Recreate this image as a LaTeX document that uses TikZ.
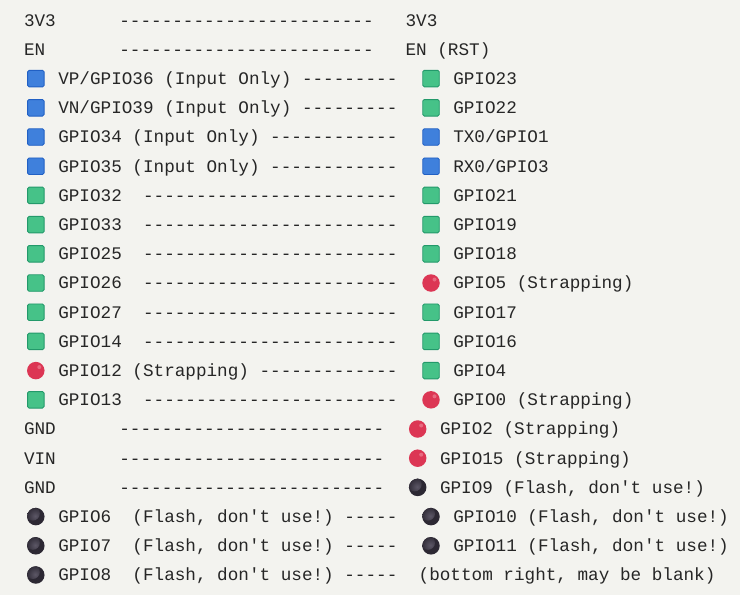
\documentclass[tikz,border=0pt]{standalone}
\usepackage{fontspec}
\setmonofont{Liberation Mono}
\definecolor{bgc}{HTML}{F3F3EF}
\definecolor{txc}{HTML}{262626}
\definecolor{eblue}{HTML}{3F80DC}
\definecolor{eblued}{HTML}{2160C4}
\definecolor{egreen}{HTML}{46C288}
\definecolor{egreend}{HTML}{23996A}
\definecolor{ered}{HTML}{DC3654}
\definecolor{eredl}{HTML}{E86A80}
\definecolor{eblack}{HTML}{2C2833}
\definecolor{eblackl}{HTML}{5C5766}
\tikzset{
  pin/.style={anchor=base west, inner sep=0pt, outer sep=0pt, text=txc,
    font=\ttfamily\fontsize{17.66pt}{20pt}\selectfont},
  esq/.style={rectangle, minimum size=16.5pt, inner sep=0pt, rounded corners=1.5pt, line width=0.9pt},
  sqblue/.style={esq, fill=eblue, draw=eblued},
  sqgreen/.style={esq, fill=egreen, draw=egreend},
  dotred/.style={circle, minimum size=17.5pt, inner sep=0pt, fill=ered,
    path picture={\fill[eredl] ([xshift=3.5pt,yshift=3.5pt]path picture bounding box.center) circle (2pt);}},
  dotblack/.style={circle, minimum size=17.5pt, inner sep=0pt, fill=eblack,
    path picture={\shade[inner color=eblackl, outer color=eblack]
      ([xshift=-3pt,yshift=3pt]path picture bounding box.center) circle (7pt);}},
}
\newcommand{\bl}[1]{26.05+29.2*#1}
\newcommand{\cy}[1]{20.2+29.2*#1}
\begin{document}
\begin{tikzpicture}[x=1pt,y=-1pt]
\fill[bgc] (0,0) rectangle (740,595);
\useasboundingbox (0,0) rectangle (740,595);
% ---- left column, plain rows
\node[pin] (l0) at (24,{\bl{0}}) {3V3~~~~~~------------------------};
\node[pin] (l1) at (24,{\bl{1}}) {EN~~~~~~~------------------------};
\node[pin] (l14) at (24,{\bl{14}}) {GND~~~~~~-------------------------};
\node[pin] (l15) at (24,{\bl{15}}) {VIN~~~~~~-------------------------};
\node[pin] (l16) at (24,{\bl{16}}) {GND~~~~~~-------------------------};
% ---- left column, marked rows
\node[sqblue] (le2) at (35.8,{\cy{2}}) {};
\node[pin] (l2) at (58.3,{\bl{2}}) {VP/GPIO36 (Input Only) ---------};
\node[sqblue] (le3) at (35.8,{\cy{3}}) {};
\node[pin] (l3) at (58.3,{\bl{3}}) {VN/GPIO39 (Input Only) ---------};
\node[sqblue] (le4) at (35.8,{\cy{4}}) {};
\node[pin] (l4) at (58.3,{\bl{4}}) {GPIO34 (Input Only) ------------};
\node[sqblue] (le5) at (35.8,{\cy{5}}) {};
\node[pin] (l5) at (58.3,{\bl{5}}) {GPIO35 (Input Only) ------------};
\node[sqgreen] (le6) at (35.8,{\cy{6}}) {};
\node[pin] (l6) at (58.3,{\bl{6}}) {GPIO32~~------------------------};
\node[sqgreen] (le7) at (35.8,{\cy{7}}) {};
\node[pin] (l7) at (58.3,{\bl{7}}) {GPIO33~~------------------------};
\node[sqgreen] (le8) at (35.8,{\cy{8}}) {};
\node[pin] (l8) at (58.3,{\bl{8}}) {GPIO25~~------------------------};
\node[sqgreen] (le9) at (35.8,{\cy{9}}) {};
\node[pin] (l9) at (58.3,{\bl{9}}) {GPIO26~~------------------------};
\node[sqgreen] (le10) at (35.8,{\cy{10}}) {};
\node[pin] (l10) at (58.3,{\bl{10}}) {GPIO27~~------------------------};
\node[sqgreen] (le11) at (35.8,{\cy{11}}) {};
\node[pin] (l11) at (58.3,{\bl{11}}) {GPIO14~~------------------------};
\node[dotred] (le12) at (35.8,{\cy{12}}) {};
\node[pin] (l12) at (58.3,{\bl{12}}) {GPIO12 (Strapping) -------------};
\node[sqgreen] (le13) at (35.8,{\cy{13}}) {};
\node[pin] (l13) at (58.3,{\bl{13}}) {GPIO13~~------------------------};
\node[dotblack] (le17) at (35.8,{\cy{17}}) {};
\node[pin] (l17) at (58.3,{\bl{17}}) {GPIO6~~(Flash, don't use!) -----};
\node[dotblack] (le18) at (35.8,{\cy{18}}) {};
\node[pin] (l18) at (58.3,{\bl{18}}) {GPIO7~~(Flash, don't use!) -----};
\node[dotblack] (le19) at (35.8,{\cy{19}}) {};
\node[pin] (l19) at (58.3,{\bl{19}}) {GPIO8~~(Flash, don't use!) -----};
% ---- right column
\node[pin] (r0) at (405.6,{\bl{0}}) {3V3};
\node[pin] (r1) at (405.6,{\bl{1}}) {EN (RST)};
\node[sqgreen] (re2) at (431,{\cy{2}}) {};
\node[pin] (r2) at (453.3,{\bl{2}}) {GPIO23};
\node[sqgreen] (re3) at (431,{\cy{3}}) {};
\node[pin] (r3) at (453.3,{\bl{3}}) {GPIO22};
\node[sqblue] (re4) at (431,{\cy{4}}) {};
\node[pin] (r4) at (453.3,{\bl{4}}) {TX0/GPIO1};
\node[sqblue] (re5) at (431,{\cy{5}}) {};
\node[pin] (r5) at (453.3,{\bl{5}}) {RX0/GPIO3};
\node[sqgreen] (re6) at (431,{\cy{6}}) {};
\node[pin] (r6) at (453.3,{\bl{6}}) {GPIO21};
\node[sqgreen] (re7) at (431,{\cy{7}}) {};
\node[pin] (r7) at (453.3,{\bl{7}}) {GPIO19};
\node[sqgreen] (re8) at (431,{\cy{8}}) {};
\node[pin] (r8) at (453.3,{\bl{8}}) {GPIO18};
\node[dotred] (re9) at (431,{\cy{9}}) {};
\node[pin] (r9) at (453.3,{\bl{9}}) {GPIO5 (Strapping)};
\node[sqgreen] (re10) at (431,{\cy{10}}) {};
\node[pin] (r10) at (453.3,{\bl{10}}) {GPIO17};
\node[sqgreen] (re11) at (431,{\cy{11}}) {};
\node[pin] (r11) at (453.3,{\bl{11}}) {GPIO16};
\node[sqgreen] (re12) at (431,{\cy{12}}) {};
\node[pin] (r12) at (453.3,{\bl{12}}) {GPIO4};
\node[dotred] (re13) at (431,{\cy{13}}) {};
\node[pin] (r13) at (453.3,{\bl{13}}) {GPIO0 (Strapping)};
\node[dotred] (re14) at (417.7,{\cy{14}}) {};
\node[pin] (r14) at (440,{\bl{14}}) {GPIO2 (Strapping)};
\node[dotred] (re15) at (417.7,{\cy{15}}) {};
\node[pin] (r15) at (440,{\bl{15}}) {GPIO15 (Strapping)};
\node[dotblack] (re16) at (417.7,{\cy{16}}) {};
\node[pin] (r16) at (440,{\bl{16}}) {GPIO9 (Flash, don't use!)};
\node[dotblack] (re17) at (431,{\cy{17}}) {};
\node[pin] (r17) at (453.3,{\bl{17}}) {GPIO10 (Flash, don't use!)};
\node[dotblack] (re18) at (431,{\cy{18}}) {};
\node[pin] (r18) at (453.3,{\bl{18}}) {GPIO11 (Flash, don't use!)};
\node[pin] (r19) at (418.7,{\bl{19}}) {(bottom right, may be blank)};
\end{tikzpicture}
\end{document}
